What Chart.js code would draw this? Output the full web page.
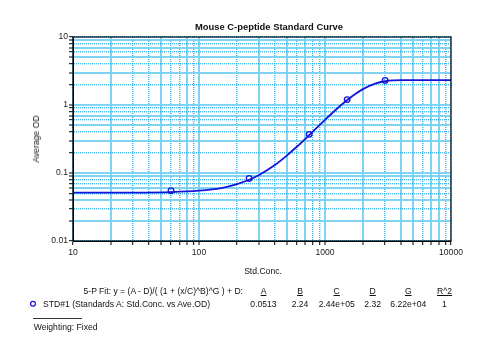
<!DOCTYPE html>
<html>
<head>
<meta charset="utf-8">
<script src="https://cdn.jsdelivr.net/npm/chart.js@4/dist/chart.umd.min.js"></script>
<style>
  html, body { margin: 0; padding: 0; background: #fff; }
  #wrap { position: relative; width: 477px; height: 340px; overflow: hidden; font-family: "Liberation Sans", Arial, sans-serif; color: #111; }
  #c { position: absolute; left: 0; top: 0; }
  .t { position: absolute; white-space: nowrap; font-size: 8.6px; line-height: 10px; }
  .cc { transform: translate(-50%, -50%); }
  .lc { transform: translate(0, -50%); }
  .u { text-decoration: underline; }
</style>
</head>
<body>
<div id="wrap">
  <canvas id="c" width="477" height="340"></canvas>
  <div class="t cc" style="left:269px; top:26.5px; font-weight:bold; font-size:9.4px;">Mouse C-peptide Standard Curve</div>
  <div class="t cc" style="left:36px; top:139px; transform: translate(-50%,-50%) rotate(-90deg);">Average OD</div>
  <div class="t cc" style="left:263px; top:270.5px;">Std.Conc.</div>
  <div class="t lc" style="left:83.5px; top:291px;">5-P Fit: y = (A - D)/( (1 + (x/C)^B)^G ) + D:</div>
  <div id="hdr"></div>
  <div id="vals"></div>
  <div class="t lc" style="left:43px; top:303.7px;">STD#1 (Standards A: Std.Conc. vs Ave.OD)</div>
  <div style="position:absolute; left:33px; top:318px; width:49px; height:1px; background:#333;"></div>
  <div class="t lc" style="left:33.7px; top:326.7px;">Weighting: Fixed</div>
</div>
<script>
// ---- data ----
const stdConc = [60, 250, 750, 1500, 3000];
const stdOD   = [0.055, 0.083, 0.37, 1.2, 2.3];

const curveConc = [10, 30, 60, 100, 150, 200, 250, 300, 400, 500, 600, 750, 1000, 1250, 1500, 1750, 2000, 2500, 3000, 3500, 4000, 5000, 10000];
const curveOD   = [0.0513, 0.0515, 0.0525, 0.055, 0.060, 0.0685, 0.0795, 0.0936, 0.131, 0.182, 0.245, 0.361, 0.604, 0.888, 1.185, 1.467, 1.713, 2.062, 2.234, 2.297, 2.316, 2.32, 2.32];

const xTickValues = [10, 20, 30, 40, 50, 60, 70, 80, 90, 100, 200, 300, 400, 500, 600, 700, 800, 900, 1000, 2000, 3000, 4000, 5000, 6000, 7000, 8000, 9000, 10000];
const yTickValues = [0.01, 0.02, 0.03, 0.04, 0.05, 0.06, 0.07, 0.08, 0.09, 0.1, 0.2, 0.3, 0.4, 0.5, 0.6, 0.7, 0.8, 0.9, 1, 2, 3, 4, 5, 6, 7, 8, 9, 10];
const xMajorLabels = {10: '10', 100: '100', 1000: '1000', 10000: '10000'};
const yMajorLabels = {0.01: '0.01', 0.1: '0.1', 1: '1', 10: '10'};

const fitParamNames  = ['A', 'B', 'C', 'D', 'G', 'R^2'];
const fitParamValues = ['0.0513', '2.24', '2.44e+05', '2.32', '6.22e+04', '1'];
const fitColumnX = [263.5, 300, 336.7, 372.7, 408.3, 444.5];

// ---- bottom fit table ----
const hdr = document.getElementById('hdr');
const vals = document.getElementById('vals');
fitParamNames.forEach((n, i) => {
  const d = document.createElement('div');
  d.className = 't cc u';
  d.style.left = fitColumnX[i] + 'px'; d.style.top = '291px';
  d.textContent = n; hdr.appendChild(d);
  const v = document.createElement('div');
  v.className = 't cc';
  v.style.left = fitColumnX[i] + 'px'; v.style.top = '303.7px';
  v.textContent = fitParamValues[i]; vals.appendChild(v);
});

// ---- grid styling (which gridlines render as solid vs dotted in the reference) ----
const xSolidIdx = new Set([1, 4, 7, 9, 11, 13, 15, 18, 19, 21, 22, 24, 25]);
const ySolidIdx = new Set([1, 3, 5, 8, 9, 11, 13, 15, 18, 20, 22, 24, 26]);
const solidColor = 'rgba(120,210,243,0.95)';
const dotColor = 'rgba(40,175,235,0.9)';
function gridFor(set) {
  return {
    color: c => set.has(c.index) ? solidColor : dotColor,
    lineWidth: c => set.has(c.index) ? 2 : 1.4,
    tickLength: 4, tickColor: '#000', tickWidth: 1
  };
}
function borderFor(set) {
  return { color: '#000', width: 1, dash: c => set.has(c.index) ? [] : [1, 1] };
}

// ---- chart ----
const boxPlugin = {
  id: 'box',
  afterDatasetsDraw(chart) {
    const {ctx, chartArea: a} = chart;
    ctx.save();
    ctx.strokeStyle = '#000'; ctx.lineWidth = 1.2;
    ctx.strokeRect(a.left, a.top, a.right - a.left, a.bottom - a.top);
    ctx.restore();
  },
  afterDraw(chart) {
    const ctx = chart.ctx;
    ctx.save();
    ctx.strokeStyle = '#1414d8'; ctx.lineWidth = 1.2;
    ctx.beginPath(); ctx.arc(33, 303.7, 2.4, 0, Math.PI * 2); ctx.stroke();
    ctx.restore();
  }
};

new Chart(document.getElementById('c'), {
  type: 'scatter',
  data: {
    datasets: [
      {
        label: 'fit',
        data: curveConc.map((x, i) => ({x, y: curveOD[i]})),
        showLine: true,
        borderColor: '#1414d8',
        borderWidth: 1.8,
        pointRadius: 0,
        cubicInterpolationMode: 'monotone',
        order: 2
      },
      {
        label: 'STD#1',
        data: stdConc.map((x, i) => ({x, y: stdOD[i]})),
        showLine: false,
        pointStyle: 'circle',
        pointRadius: 2.8,
        pointBorderWidth: 1.3,
        borderColor: '#1414d8',
        backgroundColor: 'rgba(255,255,255,0)',
        order: 1
      }
    ]
  },
  options: {
    responsive: false,
    animation: false,
    devicePixelRatio: 1,
    layout: { padding: { left: 0, top: 37, right: 26, bottom: 69 } },
    plugins: { legend: { display: false }, tooltip: { enabled: false }, title: { display: false } },
    scales: {
      x: {
        type: 'logarithmic', min: 10, max: 10000,
        afterBuildTicks: s => { s.ticks = xTickValues.map(v => ({value: v})); },
        afterFit: s => { s.height = 30; },
        ticks: {
          autoSkip: false, maxRotation: 0, padding: 2, color: '#222',
          font: { family: '"Liberation Sans", Arial', size: 8.6 },
          callback: v => (xMajorLabels[v] !== undefined ? xMajorLabels[v] : '')
        },
        grid: gridFor(xSolidIdx),
        border: borderFor(xSolidIdx)
      },
      y: {
        type: 'logarithmic', min: 0.01, max: 10,
        afterBuildTicks: s => { s.ticks = yTickValues.map(v => ({value: v})); },
        afterFit: s => { s.width = 73; },
        ticks: {
          autoSkip: false, padding: 1, color: '#222',
          font: { family: '"Liberation Sans", Arial', size: 8.6 },
          callback: v => {
            const k = Object.keys(yMajorLabels).find(kk => Math.abs(+kk - v) < v * 1e-6);
            return k !== undefined ? yMajorLabels[k] : '';
          }
        },
        grid: gridFor(ySolidIdx),
        border: borderFor(ySolidIdx)
      }
    }
  },
  plugins: [boxPlugin]
});
</script>
</body>
</html>
